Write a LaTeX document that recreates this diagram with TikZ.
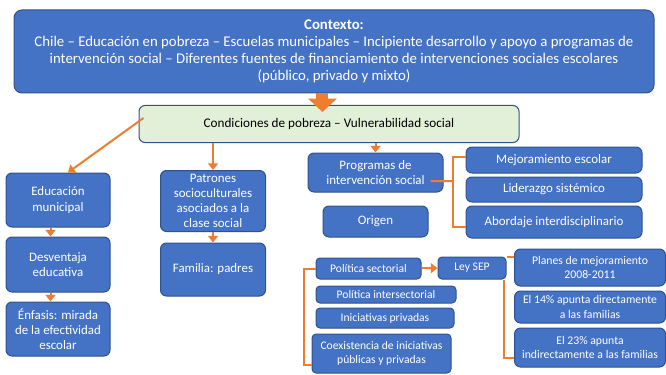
\documentclass[tikz,border=0pt]{standalone}
\usepackage{fontspec}
\setmainfont{Carlito}
\usetikzlibrary{arrows.meta}

\definecolor{boxblue}{HTML}{4472C4}
\definecolor{boxline}{HTML}{2F528F}
\definecolor{condgreen}{HTML}{E2F0D9}
\definecolor{linkorange}{HTML}{ED7D31}

\begin{document}
\begin{tikzpicture}[
  x=0.75pt, y=-0.75pt,
  sz/.style 2 args={minimum width=#1*0.75pt, minimum height=#2*0.75pt},
  box/.style={draw=boxline, fill=boxblue, line width=0.75pt, rounded corners=4.5pt,
    text=white, align=center, inner sep=1pt,
    font=\fontsize{9.7}{11.4}\selectfont},
  small/.style={box, rounded corners=3pt, font=\fontsize{8.7}{10.2}\selectfont},
  mid/.style={box, font=\fontsize{8.8}{11}\selectfont},
  cond/.style={box, fill=condgreen, text=black, font=\fontsize{9.9}{11.4}\selectfont},
  link/.style={draw=linkorange, line width=1.5pt, -{Triangle[width=7.5pt, length=5pt]}},
  bar/.style={draw=linkorange, line width=1.5pt},
  bigarrow/.style={draw=linkorange, line width=9pt, -{Triangle[width=21pt, length=10pt]}}
]
\useasboundingbox (0,0) rectangle (666,374);

% --- Context and conditions ---
\node[box, sz={640}{83}, rounded corners=6pt, font=\fontsize{11.1}{12.75}\selectfont] (ctx) at (334,51.5)
  {\textbf{Contexto:}\\Chile – Educación en pobreza – Escuelas municipales – Incipiente desarrollo y apoyo a programas de\\intervención social – Diferentes fuentes de financiamiento de intervenciones sociales escolares\\(público, privado y mixto)};
\node[cond, sz={380}{37}] (cnd) at (329,124) {Condiciones de pobreza – Vulnerabilidad social};

% --- Left column ---
\node[box, sz={104}{54}] (edu) at (58,200) {Educación\\municipal};
\node[box, sz={104}{55}] (des) at (58,264.5) {Desventaja\\educativa};
\node[box, sz={104}{54}] (enf) at (58,329) {Énfasis: mirada\\de la efectividad\\escolar};

% --- Middle column ---
\node[box, sz={105}{61}] (pat) at (213,201) {Patrones\\socioculturales\\asociados a la\\clase social};
\node[box, sz={105}{53}] (fam) at (213,269.5) {Familia: padres};

% --- Programs ---
\node[box, sz={135}{39}] (prg) at (375.5,172.5) {Programas de\\intervención social};
\node[box, sz={105}{31}] (ori) at (375.5,221.5) {Origen};
\node[box, sz={176}{26}] (mej) at (554,160) {Mejoramiento escolar};
\node[box, sz={176}{25}] (lid) at (554,189.5) {Liderazgo sistémico};
\node[box, sz={176}{32}] (abo) at (554,222) {Abordaje interdisciplinario};

% --- Policies ---
\node[small, sz={105}{21}] (pse) at (368.5,268.5) {Política sectorial};
\node[small, sz={68}{22}] (ley) at (472,268) {Ley SEP};
\node[small, sz={140}{17}] (pin) at (386,294.5) {Política intersectorial};
\node[small, sz={138}{20}] (ini) at (385,318) {Iniciativas privadas};
\node[small, sz={139}{39}] (coe) at (381.5,353.5) {Coexistencia de iniciativas\\públicas y privadas};
\node[mid, sz={151}{37}] (pla) at (590,267.5) {Planes de mejoramiento\\2008-2011};
\node[mid, sz={151}{32}] (e14) at (590,307) {El 14\% apunta directamente\\a las familias};
\node[mid, sz={151}{39}] (e23) at (590,347.5) {El 23\% apunta\\indirectamente a las familias};

% --- Connectors ---
\draw[bigarrow] ([xshift=-4.9pt]cnd.north |- ctx.south) -- ([xshift=-4.9pt,yshift=-5.25pt]cnd.north);
\draw[link] ([xshift=3.75pt,yshift=4.5pt]cnd.west) -- ([xshift=7.5pt]edu.north);
\draw[link] ([xshift=-5.6pt]edu.south) -- ([xshift=-5.6pt]des.north);
\draw[link] ([xshift=-5.6pt]des.south) -- ([xshift=-5.6pt]enf.north);
\draw[link] (cnd.south -| pat.north) -- (pat.north);
\draw[link] (pat.south) -- (fam.north);
\draw[link] (cnd.south -| prg.north) -- (prg.north);

\coordinate (pj) at (453,181);
\draw[bar] ([xshift=-9.75pt,yshift=-6.4pt]prg.east) -- (pj);
\draw[bar] ([yshift=2.25pt]mej.west) -| (pj) |- ([yshift=-3.75pt]abo.west);

\coordinate (lb) at (304,365);
\draw[bar] (pse.west) -| (lb) -- (lb -| coe.west);
\draw[link] (pse) -- (ley);
\draw[bar] (ley.north east) -- (ley.north east -| pla.west);
\draw[bar] ([xshift=-2.25pt]ley.south east) |- ([yshift=-7.9pt]e23.west);

\end{tikzpicture}
\end{document}
